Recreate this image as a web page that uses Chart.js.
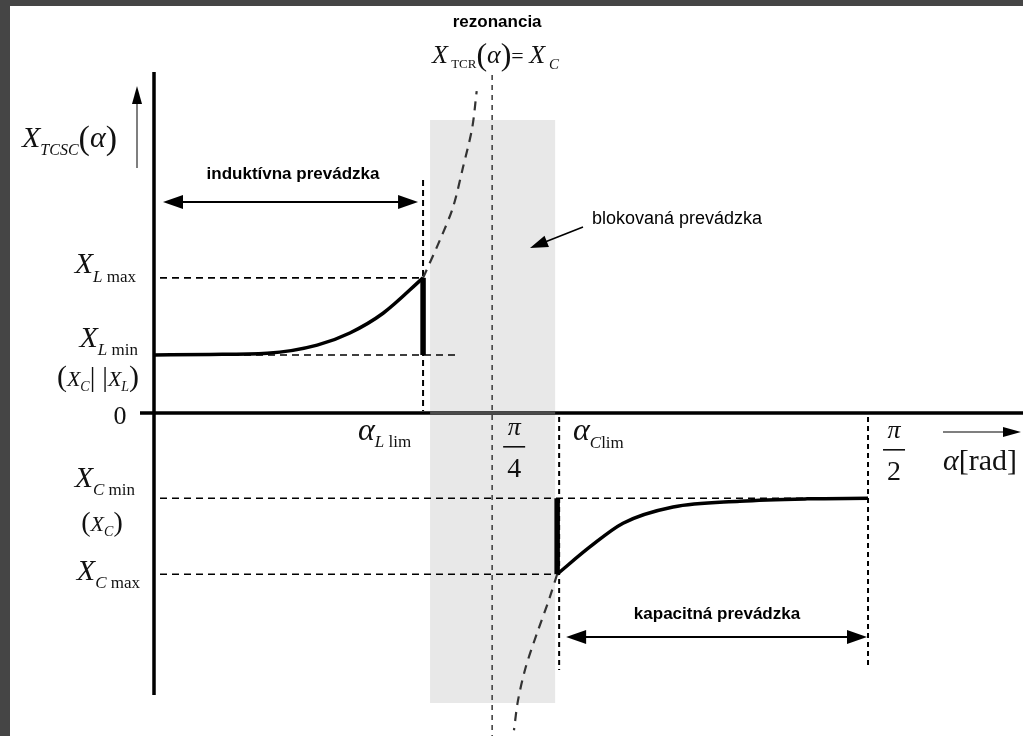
<!DOCTYPE html>
<html>
<head>
<meta charset="utf-8">
<script src="https://cdn.jsdelivr.net/npm/chart.js@4/dist/chart.umd.min.js"></script>
<style>
  html, body { margin: 0; padding: 0; background: #fff; overflow: hidden; }
  canvas { display: block; }
</style>
</head>
<body>
<canvas id="chart" width="1023" height="736"></canvas>
<script>
// positions on the alpha axis (rad, schematic)
const xTickNames = ['αLlim', 'π/4', 'αClim', 'π/2'];
const xTickPos = [0.592, 0.744, 0.887, 1.571];
// reactance levels (relative units, XLmin = 1)
const levelNames = ['XLmax', 'XLmin', 'XCmin', 'XCmax'];
const levelVals = [2.33, 1.0, -1.47, -2.78];

// X_TCSC(alpha) in inductive operation
const indX = [0, 0.123, 0.249, 0.359, 0.431, 0.504, 0.592];
const indY = [1.0, 1.01, 1.03, 1.17, 1.38, 1.72, 2.33];
// X_TCSC(alpha) in capacitive operation
const capX = [0.887, 0.959, 1.032, 1.142, 1.289, 1.437, 1.571];
const capY = [-2.78, -2.31, -1.90, -1.62, -1.52, -1.48, -1.47];
// blocked region, towards resonance (dashed)
const resUpX = [0.592, 0.629, 0.658, 0.680, 0.700, 0.710];
const resUpY = [2.33, 2.98, 3.55, 4.24, 4.91, 5.55];
const resLoX = [0.887, 0.869, 0.843, 0.818, 0.801, 0.792];
const resLoY = [-2.78, -3.22, -3.79, -4.38, -4.95, -5.47];

const SERIF = '"Liberation Serif", "DejaVu Serif", serif';
const SANS = '"Liberation Sans", Arial, sans-serif';

const pts = (xs, ys) => xs.map((x, i) => ({ x: x, y: ys[i] }));

function seg(x0, y0, x1, y1) {
    return [{ x: x0, y: y0 }, { x: x1, y: y1 }];
}

const [xLlim, xRes, xClim, xHalf] = xTickPos;
const [yLmax, yLmin, yCmin, yCmax] = levelVals;

function lineDs(data, width, dash, color, mode) {
    return {
        data: data,
        showLine: true,
        borderColor: color || '#000',
        borderWidth: width,
        borderDash: dash || [],
        pointRadius: 0,
        tension: 0.3,
        cubicInterpolationMode: mode || 'default',
        fill: false,
        clip: false
    };
}

// math-ish text: parts = [text, font, dy]
function mathText(ctx, x, y, parts, align) {
    let w = 0;
    parts.forEach(p => { ctx.font = p[1]; w += ctx.measureText(p[0]).width; });
    let cx = align === 'right' ? x - w : align === 'center' ? x - w / 2 : x;
    ctx.textAlign = 'left';
    ctx.textBaseline = 'alphabetic';
    parts.forEach(p => {
        ctx.font = p[1];
        ctx.fillText(p[0], cx, y + (p[2] || 0));
        cx += ctx.measureText(p[0]).width;
    });
}

function arrowHead(ctx, x, y, angle, len, half) {
    ctx.save();
    ctx.translate(x, y);
    ctx.rotate(angle);
    ctx.beginPath();
    ctx.moveTo(0, 0);
    ctx.lineTo(-len, -half);
    ctx.lineTo(-len, half);
    ctx.closePath();
    ctx.fill();
    ctx.restore();
}

function dashLine(ctx, x0, y0, x1, y1, dash, width, color) {
    ctx.save();
    ctx.strokeStyle = color || '#000';
    ctx.lineWidth = width;
    ctx.setLineDash(dash);
    ctx.beginPath();
    ctx.moveTo(x0, y0);
    ctx.lineTo(x1, y1);
    ctx.stroke();
    ctx.restore();
}

const diagram = {
    id: 'diagram',
    beforeDatasetsDraw(chart) {
        const ctx = chart.ctx;
        const xs = chart.scales.x, ys = chart.scales.y;
        const px = v => xs.getPixelForValue(v);
        const py = v => ys.getPixelForValue(v);
        ctx.save();
        // frame
        ctx.fillStyle = '#454545';
        ctx.fillRect(0, 0, chart.width, chart.height);
        ctx.fillStyle = '#fff';
        ctx.fillRect(10, 6, chart.width - 10, chart.height - 6);
        // blocked region
        ctx.fillStyle = '#e8e8e8';
        ctx.fillRect(px(xLlim) + 7, 120, px(xClim) - px(xLlim) - 9, 583);

        // axes
        const y0 = py(0), x0 = px(0);
        ctx.strokeStyle = '#000';
        ctx.lineWidth = 3.5;
        ctx.beginPath();
        ctx.moveTo(140, y0); ctx.lineTo(chart.width, y0);
        ctx.moveTo(x0, 72); ctx.lineTo(x0, 695);
        ctx.stroke();
        ctx.strokeStyle = '#4a4a4a';
        ctx.beginPath();
        ctx.moveTo(px(xLlim) + 7, y0); ctx.lineTo(px(xClim) - 2, y0);
        ctx.stroke();

        // guide lines
        dashLine(ctx, x0 + 6, py(yLmax), px(xLlim), py(yLmax), [7, 5], 1.6);
        dashLine(ctx, x0 + 6, py(yLmin), px(xLlim) + 32, py(yLmin), [7, 5], 1.6);
        dashLine(ctx, x0 + 6, py(yCmin), px(xHalf), py(yCmin), [7, 5], 1.6);
        dashLine(ctx, x0 + 6, py(yCmax), px(xClim), py(yCmax), [7, 5], 1.6);
        dashLine(ctx, px(xLlim), 180, px(xLlim), y0 - 2, [6, 4], 2);
        dashLine(ctx, px(xRes), 75, px(xRes), chart.height, [5, 5], 1.6, '#444');
        dashLine(ctx, px(xClim) + 2, y0 + 4, px(xClim) + 2, 670, [5, 4], 2);
        dashLine(ctx, px(xHalf), y0 + 4, px(xHalf), 665, [5, 4], 2);
        ctx.restore();
    },
    afterDatasetsDraw(chart) {
        const ctx = chart.ctx;
        const xs = chart.scales.x, ys = chart.scales.y;
        const px = v => xs.getPixelForValue(v);
        const py = v => ys.getPixelForValue(v);
        ctx.save();
        ctx.fillStyle = '#000';
        ctx.strokeStyle = '#000';

        // small y arrow next to axis title
        ctx.strokeStyle = '#555';
        ctx.lineWidth = 1.5;
        ctx.beginPath(); ctx.moveTo(137, 168); ctx.lineTo(137, 100); ctx.stroke();
        arrowHead(ctx, 137, 86, -Math.PI / 2, 18, 5);
        // small x arrow above alpha[rad]
        ctx.beginPath(); ctx.moveTo(943, 432); ctx.lineTo(1005, 432); ctx.stroke();
        arrowHead(ctx, 1021, 432, 0, 18, 5);

        // range arrows
        ctx.strokeStyle = '#000';
        ctx.lineWidth = 2;
        ctx.beginPath(); ctx.moveTo(175, 202); ctx.lineTo(406, 202); ctx.stroke();
        arrowHead(ctx, 163, 202, Math.PI, 20, 7);
        arrowHead(ctx, px(xLlim) - 5, 202, 0, 20, 7);
        ctx.beginPath(); ctx.moveTo(580, 637); ctx.lineTo(855, 637); ctx.stroke();
        arrowHead(ctx, px(xClim) + 9, 637, Math.PI, 20, 7);
        arrowHead(ctx, px(xHalf) - 1, 637, 0, 20, 7);
        ctx.lineWidth = 1.5;
        ctx.beginPath(); ctx.moveTo(583, 227); ctx.lineTo(545, 242); ctx.stroke();
        arrowHead(ctx, 530, 248, Math.atan2(21, -53), 18, 6);

        // plain text
        ctx.textBaseline = 'middle';
        ctx.textAlign = 'center';
        ctx.font = 'bold 17px ' + SANS;
        ctx.fillText('rezonancia', px(xRes) + 5, 22);
        ctx.fillText('induktívna prevádzka', 293, 174);
        ctx.fillText('kapacitná prevádzka', 717, 614);
        ctx.textAlign = 'left';
        ctx.font = '18px ' + SANS;
        ctx.fillText('blokovaná prevádzka', 592, 219);

        // math labels
        const it = s => 'italic ' + s + 'px ' + SERIF;
        const rm = s => s + 'px ' + SERIF;
        ctx.fillStyle = '#111';
        mathText(ctx, 432, 63, [['X', it(26)], [' TCR', rm(13), 5], ['(', rm(32), 2], ['α', it(26)], [')', rm(32), 2], ['= ', rm(22)], ['X', it(26)], [' C', it(15), 6]], 'left');
        mathText(ctx, 22, 147, [['X', it(30)], ['TCSC', it(16), 8], ['(', rm(34), 2], ['α', it(30)], [')', rm(34), 2]], 'left');
        mathText(ctx, 136, 273, [['X', it(30)], ['L', it(17), 9], [' max', rm(17), 9]], 'right');
        mathText(ctx, 138, 347, [['X', it(30)], ['L', it(17), 8], [' min', rm(17), 8]], 'right');
        mathText(ctx, 98, 386, [['(', rm(30)], ['X', it(22)], ['C', it(14), 5], ['|', rm(28)], [' |', rm(28)], ['X', it(22)], ['L', it(14), 5], [')', rm(30)]], 'center');
        mathText(ctx, 120, 424, [['0', rm(26)]], 'center');
        mathText(ctx, 135, 487, [['X', it(30)], ['C', it(17), 8], [' min', rm(17), 8]], 'right');
        mathText(ctx, 102, 531, [['(', rm(28)], ['X', it(22)], ['C', it(14), 5], [')', rm(28)]], 'center');
        mathText(ctx, 140, 580, [['X', it(30)], ['C', it(17), 8], [' max', rm(17), 8]], 'right');
        mathText(ctx, 358, 440, [['α', it(32)], ['L', it(17), 7], [' lim', rm(17), 7]], 'left');
        mathText(ctx, 573, 440, [['α', it(32)], ['C', it(17), 8], ['lim', rm(17), 8]], 'left');
        mathText(ctx, 943, 470, [['α', it(30)], ['[rad]', rm(30)]], 'left');

        // fractions pi/4 and pi/2
        const frac = (cx, num, den, barY) => {
            mathText(ctx, cx, barY - 12, [[num, it(26)]], 'center');
            ctx.fillRect(cx - 11, barY - 1, 22, 1.6);
            mathText(ctx, cx, barY + 30, [[den, rm(28)]], 'center');
        };
        frac(px(xRes) + 22, 'π', '4', 447);
        frac(px(xHalf) + 26, 'π', '2', 450);
        ctx.restore();
    }
};

new Chart(document.getElementById('chart'), {
    type: 'scatter',
    data: {
        datasets: [
            lineDs(pts(indX, indY), 3.5, null, '#000', 'monotone'),
            lineDs(pts(capX, capY), 3.5, null, '#000', 'monotone'),
            lineDs(pts(resUpX, resUpY), 2.2, [9, 7], '#333'),
            lineDs(pts(resLoX, resLoY), 2.2, [9, 7], '#333'),
            lineDs(seg(xLlim, yLmax, xLlim, yLmin), 5.5),
            lineDs(seg(xClim, yCmin, xClim, yCmax), 5.5)
        ]
    },
    options: {
        responsive: false,
        animation: false,
        devicePixelRatio: 1,
        layout: { padding: 0 },
        plugins: { legend: { display: false }, tooltip: { enabled: false } },
        scales: {
            x: { type: 'linear', display: false, min: -154 / 454.5, max: (1023 - 154) / 454.5 },
            y: { type: 'linear', display: false, min: -(736 - 413) / 58, max: 413 / 58 }
        }
    },
    plugins: [diagram]
});
</script>
</body>
</html>
